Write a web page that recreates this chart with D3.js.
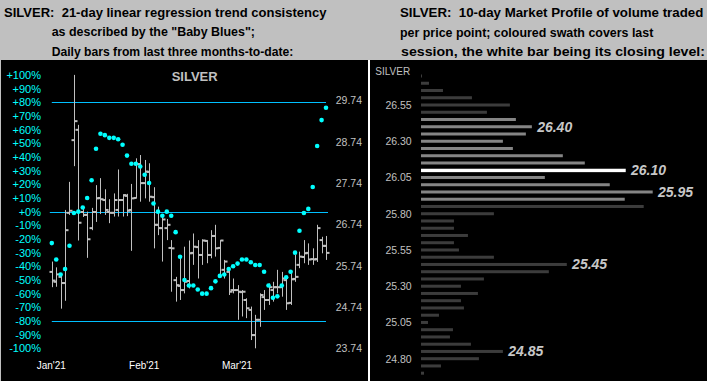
<!DOCTYPE html>
<html><head><meta charset="utf-8">
<script src="https://cdn.jsdelivr.net/npm/d3@7"></script>
<style>body{margin:0;background:#c0c0c0;} svg{display:block} text.hdr{white-space:pre}</style>
</head><body><svg id="c" width="707" height="381"></svg>
<script>
// ---------- DATA ----------
const opens  = [25.59,25.35,25.47,25.32,27.02,28.78,29.03,27.04,26.97,26.65,27.04,27.38,27.33,27.04,27.02,27.09,27.33,27.43,27.09,27.38,28.20,27.74,28.01,27.40,26.73,26.65,26.65,26.17,25.39,25.25,25.15,25.37,26.05,26.19,26.00,26.34,26.00,26.46,26.17,25.64,25.59,25.15,25.15,25.10,24.91,24.67,24.06,24.43,24.98,24.91,25.15,25.22,25.22,25.39,24.84,25.42,25.76,25.95,26.05,25.90,25.90,26.36,26.22];
const highs  = [25.84,25.70,25.56,27.09,27.77,30.36,29.15,27.14,27.05,27.14,27.69,27.86,27.59,27.35,27.49,28.07,27.47,27.48,27.72,28.34,28.42,28.30,28.22,27.64,27.17,26.99,26.87,26.36,25.47,25.96,26.20,26.35,26.52,26.36,26.38,26.36,26.60,26.73,26.36,25.88,25.64,25.43,25.27,25.15,24.95,24.75,24.55,25.07,25.15,25.31,25.35,25.64,25.59,25.47,25.56,26.00,26.08,26.36,26.28,26.16,26.73,26.44,26.46];
const lows   = [25.22,25.23,24.70,24.89,26.97,28.15,26.35,26.92,25.93,26.60,26.80,26.99,26.97,26.77,26.93,26.93,26.93,26.94,26.10,27.37,27.29,27.37,27.29,26.16,26.48,25.84,26.36,25.11,24.87,24.91,25.07,25.19,25.76,25.43,25.76,25.80,25.92,25.96,25.47,25.43,25.03,25.07,24.43,24.51,24.47,23.94,23.74,24.26,24.67,24.79,24.87,25.07,24.99,24.67,24.79,25.35,25.68,25.80,25.76,25.76,25.83,26.04,25.88];
const closes = [25.38,25.53,25.32,26.60,27.07,29.24,26.78,26.97,26.38,27.04,27.37,27.35,27.09,27.02,27.33,27.33,27.45,27.07,27.37,28.20,27.74,28.02,27.41,26.73,26.65,26.86,26.73,26.16,25.27,25.15,25.35,26.04,26.20,26.00,26.35,26.00,26.46,26.16,26.35,25.84,25.11,25.15,25.11,25.11,24.71,24.06,24.43,25.03,24.91,25.22,25.22,25.22,25.43,24.83,25.41,25.47,25.96,26.04,25.89,25.89,26.65,26.22,26.05];
// 21-day linear regression trend consistency ("Baby Blues"), percent
const babyBlues = [-23,-35,-46,-42,-25,-1,0,3,10,23,46,57,56,54,54,53,49,41,35,35,33,27,21,6,0,-3,0,-3,-15,-33,-50,-54,-54,-57,-60,-60,-56,-51,-47,-46,-42,-40,-38,-35,-35,-37,-39,-39,-44,-54,-63,-62,-54,-48,-44,-30,-14,-1,2,18,48,67,76];
const pctTicks = d3.range(100, -101, -10);
const priceTicks = [29.74, 28.74, 27.74, 26.74, 25.74, 24.74, 23.74];
const monthLabels = ["Jan'21", "Feb'21", "Mar'21"];
const monthIdx = [0, 21, 42];
const trendLines = [80, 0, -80];

// Market profile
const profileLevels = d3.range(42).map(i => +(26.75 - i * 0.05).toFixed(2));
const profileVolume = [1,8,22,51,89,66,95,111,105,82,92,142,164,205,124,189,232,204,223,73,33,33,47,33,38,73,146,128,63,40,57,40,43,18,7,32,29,50,82,58,20,3];
const profileTicks = [26.55, 26.30, 26.05, 25.80, 25.55, 25.30, 25.05, 24.80];
const labeledLevels = [26.40, 26.10, 25.95, 25.45, 24.85];
const closeLevel = 26.10;
const swath = [25.90, 26.45];

const leftHeader = ["SILVER:  21-day linear regression trend consistency", "as described by the \"Baby Blues\";", "Daily bars from last three months-to-date:"];
const rightHeader = ["SILVER:  10-day Market Profile of volume traded", "per price point; coloured swath covers last", "session, the white bar being its closing level:"];

// ---------- DRAW ----------
const svg = d3.select("#c");
const FONT = "Liberation Sans, Arial, sans-serif";
svg.append("rect").attr("width", 707).attr("height", 381).attr("fill", "#c0c0c0");
svg.append("rect").attr("x", 1).attr("y", 60).attr("width", 367).attr("height", 321).attr("fill", "#000");
svg.append("rect").attr("x", 368).attr("y", 60).attr("width", 2).attr("height", 321).attr("fill", "#fff");
svg.append("rect").attr("x", 370).attr("y", 60).attr("width", 337).attr("height", 321).attr("fill", "#000");

// headers
const lh = [{x:4,y:16.5,w:322.5},{x:51.7,y:36,w:203.3},{x:51.7,y:55.5,w:241.6}];
leftHeader.forEach((t,i)=>{
  svg.append("text").attr("class","hdr").attr("xml:space","preserve").attr("x",lh[i].x).attr("y",lh[i].y).attr("font-family",FONT).attr("font-weight","bold")
    .attr("font-size",13).attr("textLength",lh[i].w).attr("lengthAdjust","spacingAndGlyphs").attr("fill","#000").text(t);
});
const rh = [{x:400,y:17,w:303.3},{x:400,y:36.5,w:253.3},{x:401,y:55.5,w:304}];
rightHeader.forEach((t,i)=>{
  svg.append("text").attr("class","hdr").attr("xml:space","preserve").attr("x",rh[i].x).attr("y",rh[i].y).attr("font-family",FONT).attr("font-weight","bold")
    .attr("font-size",13).attr("textLength",rh[i].w).attr("lengthAdjust","spacingAndGlyphs").attr("fill","#000").text(t);
});

// left chart scales
const x = d3.scaleLinear().domain([0, opens.length - 1]).range([51.8, 326]);
const yPct = d3.scaleLinear().domain([-100, 100]).range([348.3, 75]);
const yPrice = d3.scaleLinear().domain([23.74, 29.74]).range([348.3, 100.5]);
const px = i => Math.round(x(i)) + 0.5;

svg.append("text").attr("x", 194.7).attr("y", 81).attr("text-anchor", "middle").attr("font-family", FONT)
  .attr("font-weight", "bold").attr("font-size", 13).attr("fill", "#c0c0c0").text("SILVER");

// pct axis
const ax1 = svg.append("g").attr("transform", "translate(41,0)")
  .call(d3.axisLeft(yPct).tickValues(pctTicks).tickSize(0).tickPadding(0).tickFormat(d => (d >= 0 ? "+" : "") + d + "%"));
ax1.select(".domain").remove();
ax1.selectAll("text").attr("fill", "#00ffff").attr("font-family", FONT).attr("font-size", 11);

// price axis
const ax2 = svg.append("g").attr("transform", "translate(335.7,0)")
  .call(d3.axisRight(yPrice).tickValues(priceTicks).tickSize(0).tickPadding(0).tickFormat(d3.format(".2f")));
ax2.select(".domain").remove();
ax2.selectAll("text").attr("fill", "#c0c0c0").attr("font-family", FONT).attr("font-size", 10.5);

// month axis
const ax3 = svg.append("g").attr("transform", "translate(-1,361.9)")
  .call(d3.axisBottom(x).tickValues(monthIdx).tickSize(0).tickPadding(0).tickFormat((d, i) => monthLabels[i]));
ax3.select(".domain").remove();
ax3.selectAll("text").attr("fill", "#fff").attr("font-family", FONT).attr("font-size", 10);

// trend lines
svg.selectAll(".tl").data(trendLines).enter().append("line")
  .attr("x1", d => x(0) - (d === 0 ? 2 : 0)).attr("x2", d => x(opens.length - 1) + (d === 0 ? 2 : 0))
  .attr("y1", d => Math.round(yPct(d)) + 0.5).attr("y2", d => Math.round(yPct(d)) + 0.5)
  .attr("stroke", "#00c0ff").attr("stroke-width", 1.2);

// OHLC bars
const bars = svg.append("g").attr("stroke", "#c0c0c0");
opens.forEach((o, i) => {
  const xx = px(i);
  bars.append("line").attr("x1", xx).attr("x2", xx).attr("y1", yPrice(highs[i])).attr("y2", yPrice(lows[i])).attr("stroke-width", 1);
  bars.append("line").attr("x1", xx - 3).attr("x2", xx).attr("y1", yPrice(o)).attr("y2", yPrice(o)).attr("stroke-width", 2);
  bars.append("line").attr("x1", xx).attr("x2", xx + 3).attr("y1", yPrice(closes[i])).attr("y2", yPrice(closes[i])).attr("stroke-width", 2);
});

// Baby Blues
svg.selectAll(".bb").data(babyBlues).enter().append("circle")
  .attr("cx", (d, i) => x(i)).attr("cy", d => yPct(d)).attr("r", 2.3).attr("fill", "#00ffff");

// ---------- Market profile ----------
const yProf = d3.scaleLinear().domain([24.80, 26.55]).range([358.7, 105]);
const xVol = d3.scaleLinear().domain([0, d3.max(profileVolume)]).range([0, 231.7]);
const x0 = 421;

svg.append("text").attr("x", 375.3).attr("y", 74.5).attr("font-family", FONT).attr("font-size", 10)
  .attr("fill", "#c0c0c0").text("SILVER");

const ax4 = svg.append("g").attr("transform", "translate(411.7,0)")
  .call(d3.axisLeft(yProf).tickValues(profileTicks).tickSize(0).tickPadding(0).tickFormat(d3.format(".2f")));
ax4.select(".domain").remove();
ax4.selectAll("text").attr("fill", "#c0c0c0").attr("font-family", FONT).attr("font-size", 10.5);

const colorOf = lv => Math.abs(lv - closeLevel) < 1e-6 ? "#ffffff" : (lv >= swath[0] - 1e-6 && lv <= swath[1] + 1e-6 ? "#858585" : "#3c3c3c");
svg.selectAll(".pb").data(profileLevels).enter().append("rect")
  .attr("x", x0).attr("y", d => yProf(d) - 1.5).attr("height", d => Math.abs(d - closeLevel) < 1e-6 ? 3.4 : 3)
  .attr("width", (d, i) => Math.max(1, xVol(profileVolume[i]))).attr("fill", colorOf);

svg.selectAll(".pl").data(labeledLevels).enter().append("text")
  .attr("x", d => x0 + xVol(profileVolume[profileLevels.findIndex(v => Math.abs(v - d) < 1e-6)]) + 5.3)
  .attr("y", d => yProf(d) + 5).attr("font-family", FONT).attr("font-weight", "bold").attr("font-style", "italic")
  .attr("font-size", 14).attr("fill", "#c8c8c8").text(d => d.toFixed(2));
</script></body></html>
